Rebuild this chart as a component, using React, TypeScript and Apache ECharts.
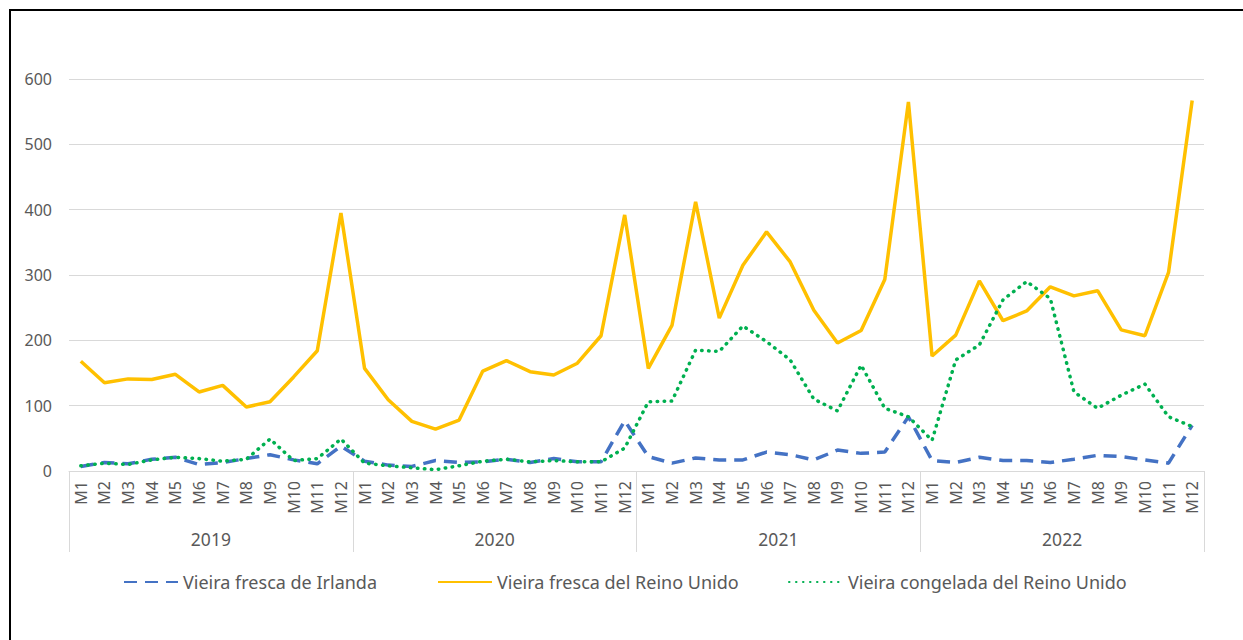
import React, { useEffect, useRef } from "react";
import * as echarts from "echarts";

const years = ["2019", "2020", "2021", "2022"];
const months = ["M1", "M2", "M3", "M4", "M5", "M6", "M7", "M8", "M9", "M10", "M11", "M12"];
const categories: string[] = years.flatMap(() => months);

const seriesNames = [
  "Vieira fresca de Irlanda",
  "Vieira fresca del Reino Unido",
  "Vieira congelada del Reino Unido",
];

const irlandaFresca = [
  7, 13, 11, 18, 21, 10, 13, 19, 25, 17, 11, 38,
  15, 9, 7, 16, 13, 14, 18, 13, 19, 14, 14, 77,
  22, 12, 20, 17, 17, 29, 25, 17, 32, 27, 29, 83,
  16, 13, 21, 16, 16, 13, 18, 24, 22, 17, 12, 70,
];
const reinoUnidoFresca = [
  168, 135, 141, 140, 148, 121, 131, 98, 106, 144, 184, 395,
  157, 109, 76, 64, 78, 153, 169, 152, 147, 165, 207, 392,
  157, 223, 412, 234, 315, 366, 320, 246, 196, 215, 293, 565,
  176, 208, 291, 230, 245, 282, 268, 276, 216, 207, 304, 567,
];
const reinoUnidoCongelada = [
  8, 12, 10, 17, 21, 19, 15, 18, 49, 16, 19, 49,
  12, 8, 5, 2, 8, 15, 18, 14, 16, 14, 14, 35,
  106, 107, 185, 183, 222, 198, 170, 110, 92, 162, 96, 83,
  47, 170, 193, 262, 290, 264, 121, 96, 116, 133, 83, 68,
];

const FONT = "'Noto Sans', sans-serif";
const TEXT = "#595959";
const GRID = "#D9D9D9";

export default function App() {
  const ref = useRef<HTMLDivElement>(null);
  useEffect(() => {
    if (!ref.current) return;
    const chart = echarts.init(ref.current, undefined, { renderer: "svg" });
    const legendBase = {
      top: 573,
      padding: 0,
      itemWidth: 54,
      itemHeight: 14,
      itemGap: 0,
      itemStyle: { opacity: 0 },
      textStyle: { color: TEXT, fontSize: 18, fontFamily: FONT },
    };
    chart.setOption({
      animation: false,
      backgroundColor: "#fff",
      textStyle: { fontFamily: FONT },
      grid: { left: 69, right: 39, top: 79, bottom: 169, containLabel: false },
      legend: [
        { ...legendBase, left: 123, data: [seriesNames[0]] },
        { ...legendBase, left: 437, data: [seriesNames[1]] },
        { ...legendBase, left: 788, data: [seriesNames[2]] },
      ],
      xAxis: [
        {
          type: "category",
          data: categories,
          position: "bottom",
          boundaryGap: true,
          axisLine: { show: true, lineStyle: { color: GRID, width: 1 } },
          axisTick: { show: false },
          axisLabel: {
            interval: 0,
            rotate: 90,
            margin: 10,
            color: TEXT,
            fontSize: 16,
            fontFamily: FONT,
          },
        },
        {
          type: "category",
          data: years,
          position: "bottom",
          offset: 0,
          boundaryGap: true,
          axisLine: { show: false },
          axisTick: {
            show: true,
            interval: 0,
            length: 81,
            lineStyle: { color: GRID, width: 1 },
          },
          axisLabel: {
            interval: 0,
            margin: 59,
            color: TEXT,
            fontSize: 17.5,
            fontFamily: FONT,
          },
        },
      ],
      yAxis: {
        type: "value",
        min: 0,
        max: 600,
        interval: 100,
        axisLine: { show: false },
        axisTick: { show: false },
        splitLine: { lineStyle: { color: GRID, width: 1 } },
        axisLabel: { color: TEXT, fontSize: 16, fontFamily: FONT, margin: 17 },
      },
      series: [
        {
          name: seriesNames[0],
          type: "line",
          xAxisIndex: 0,
          data: irlandaFresca,
          symbol: "none",
          color: "#4472C4",
          lineStyle: { color: "#4472C4", width: 3.5, type: [13, 8], cap: "butt" },
        },
        {
          name: seriesNames[1],
          type: "line",
          xAxisIndex: 0,
          data: reinoUnidoFresca,
          symbol: "none",
          color: "#FFC000",
          lineStyle: { color: "#FFC000", width: 3.5, type: "solid" },
        },
        {
          name: seriesNames[2],
          type: "line",
          xAxisIndex: 0,
          data: reinoUnidoCongelada,
          symbol: "none",
          color: "#00B050",
          lineStyle: { color: "#00B050", width: 3.5, type: [0.5, 6.5], cap: "round" },
        },
      ],
      graphic: [
        {
          type: "line",
          shape: { x1: 10, y1: 10, x2: 1243, y2: 10 },
          style: { stroke: "#000", lineWidth: 2 },
          silent: true,
        },
        {
          type: "line",
          shape: { x1: 10, y1: 9, x2: 10, y2: 640 },
          style: { stroke: "#000", lineWidth: 2 },
          silent: true,
        },
      ],
    });
    return () => chart.dispose();
  }, []);
  return (
    <div style={{ position: "absolute", left: 0, top: 0, width: 1243, height: 640 }}>
      <div ref={ref} style={{ width: 1243, height: 640 }} />
    </div>
  );
}
